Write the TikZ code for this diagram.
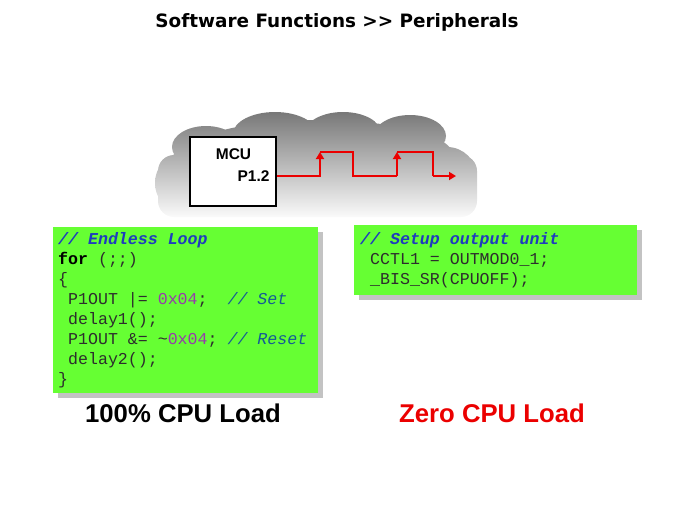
\documentclass[tikz,border=0pt]{standalone}
\usepackage{fontspec}
\usetikzlibrary{arrows.meta}
\newfontfamily\titlefont{DejaVu Sans}
\newfontfamily\arialfont{Liberation Sans}
\newfontfamily\codefont{Liberation Mono}
\definecolor{codegreen}{RGB}{102,255,51}
\definecolor{shadowgray}{RGB}{195,195,195}
\definecolor{cmtblue}{RGB}{30,60,190}
\definecolor{cmtteal}{RGB}{20,90,150}
\definecolor{numpurple}{RGB}{150,60,170}
\definecolor{codetext}{RGB}{45,45,45}
\definecolor{sigred}{RGB}{235,0,0}
\definecolor{cloudtop}{RGB}{120,120,120}
\definecolor{cloudmid}{RGB}{175,175,175}
\definecolor{cloudbot}{RGB}{250,250,250}
\begin{document}
\begin{tikzpicture}[x=1pt,y=-1pt,
  cloudshade/.style={top color=cloudtop,middle color=cloudmid,bottom color=cloudbot},
  codebox/.style={fill=codegreen,draw=none},
  shadowbox/.style={fill=shadowgray,draw=none},
  codeline/.style={anchor=base west,inner sep=0pt,text=codetext,font=\codefont\fontsize{16.6}{20}\selectfont},
  loadlabel/.style={font=\arialfont\bfseries\fontsize{25.7}{30}\selectfont,inner sep=0pt},
  signal/.style={draw=sigred,line width=2pt},
  sigarrow/.style={signal,-{Triangle[length=7pt,width=8pt]}},
]
\useasboundingbox (0,0) rectangle (674,506);

% title
\node[font=\titlefont\bfseries\fontsize{18.4}{22}\selectfont,inner sep=0pt] (title) at (337,22) {Software Functions >> Peripherals};

% cloud (one path, all parts wound the same way)
\shade[cloudshade]
  (186,183) circle[radius=31pt]
  (206,147) ellipse[x radius=34pt,y radius=21pt]
  (275,134) ellipse[x radius=42pt,y radius=22pt]
  (343,133) ellipse[x radius=38pt,y radius=21pt]
  (410,136) ellipse[x radius=36pt,y radius=21pt]
  (447,177) circle[radius=30pt]
  (318,155) ellipse[x radius=135pt,y radius=35pt]
  [rounded corners=16pt] (477,217) -- (477,155) -- (158,155) -- (158,217) -- cycle;

% MCU box
\node[draw=black,fill=white,line width=2.5pt,minimum width=86pt,minimum height=69pt,inner sep=0pt] (mcu) at (233,171.5) {};
\node[font=\arialfont\bfseries\fontsize{15.5}{18}\selectfont,inner sep=0pt] (mcutext) at (233.5,154.5) {MCU};
\node[font=\arialfont\bfseries\fontsize{15.5}{18}\selectfont,inner sep=0pt] (p12) at (253.5,176) {P1.2};

% signal
\coordinate (s0) at (mcu.east |- p12.east);
\coordinate (s1) at (320,176);
\coordinate (s2) at (320,152);
\coordinate (s3) at (353,152);
\coordinate (s4) at (353,176);
\coordinate (s5) at (397,176);
\coordinate (s6) at (397,152);
\coordinate (s7) at (433,152);
\coordinate (s8) at (433,176);
\coordinate (s9) at (456,176);
\draw[sigarrow] (s0) -- (s1) -- (s2);
\draw[signal] (s2) -- (s3) -- (s4) -- (s5);
\draw[sigarrow] (s5) -- (s6);
\draw[signal] (s6) -- (s7) -- (s8);
\draw[sigarrow] (s8) -- (s9);

% left code box
\path[shadowbox] (58,232) rectangle (323,398);
\path[codebox] (53,227) rectangle (318,393);
\node[codeline] (la) at (58,244) {\textcolor{cmtblue}{\bfseries\itshape //\ Endless\ Loop}};
\node[codeline] (lb) at (58,264) {{\color{black}\bfseries for}\ (;;)};
\node[codeline] (lc) at (58,284) {\{};
\node[codeline] (ld) at (58,304) {\ P1OUT\ |=\ \textcolor{numpurple}{0x04};\ \ \textcolor{cmtteal}{\itshape //\ Set}};
\node[codeline] (le) at (58,324) {\ delay1();};
\node[codeline] (lf) at (58,344) {\ P1OUT\ \&=\ \textasciitilde\textcolor{numpurple}{0x04};\ \textcolor{cmtteal}{\itshape //\ Reset}};
\node[codeline] (lg) at (58,364) {\ delay2();};
\node[codeline] (lh) at (58,384) {\}};

% right code box
\path[shadowbox] (359,230) rectangle (642,300);
\path[codebox] (354,225) rectangle (637,295);
\node[codeline] (ra) at (360,244) {\textcolor{cmtblue}{\bfseries\itshape //\ Setup\ output\ unit}};
\node[codeline] (rb) at (360,264) {\ CCTL1\ =\ OUTMOD0\_1;};
\node[codeline] (rc) at (360,284) {\ \_BIS\_SR(CPUOFF);};

% load labels
\node[loadlabel,text=black] (load1) at (183,413) {100\% CPU Load};
\node[loadlabel,text=sigred] (load2) at (492,413) {Zero CPU Load};
\end{tikzpicture}
\end{document}
